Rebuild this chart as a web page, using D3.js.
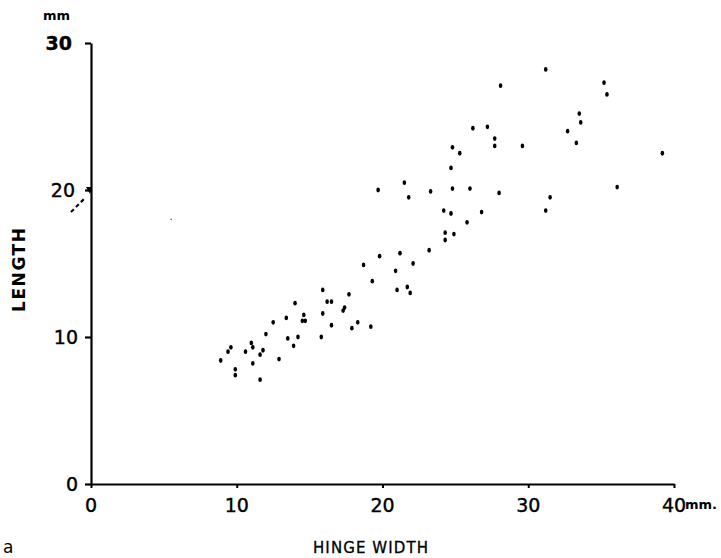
<!DOCTYPE html>
<html>
<head>
<meta charset="utf-8">
<script src="https://cdn.jsdelivr.net/npm/d3@7"></script>
<style>
  body { margin: 0; background: #fff; }
  svg { display: block; }
  .tick-label { font-family: "DejaVu Sans", sans-serif; font-size: 19px; fill: #000; stroke: #000; stroke-width: 0.4px; }
  .axis-title { font-family: "DejaVu Sans", sans-serif; fill: #000; }
</style>
</head>
<body>
<div id="chart"></div>
<script>
// hinge width (mm) vs length (mm)
const hingeWidth = [
  19.8, 21.2, 22.1, 18.7, 20.9, 19.3, 21.7, 21.0, 21.9, 15.9,
  17.7, 16.2, 16.5, 14.0, 17.3, 17.4, 15.9, 14.6, 13.4, 14.5,
  14.7, 12.5, 18.3, 16.5, 17.9, 19.2, 12.0, 13.5, 14.2, 15.8,
  11.0, 9.6, 11.1, 13.9, 9.4, 10.6, 11.8, 11.6, 12.9, 8.9,
  11.1, 9.9, 9.9, 11.6,
  24.8, 27.7, 27.7, 29.6, 25.3, 24.7, 21.5, 19.7, 23.3, 24.8,
  26.0, 21.8, 28.0, 31.5, 24.2, 24.7, 26.8, 31.2, 25.8, 24.3,
  24.9, 24.3, 23.2, 31.2, 28.1, 35.2, 35.4, 33.5, 33.6, 32.7,
  33.3, 26.2, 27.2, 39.2, 36.1
];
const shellLength = [
  15.5, 15.7, 15.0, 14.9, 14.5, 13.8, 13.4, 13.2, 13.0, 13.2,
  12.9, 12.4, 12.4, 12.3, 11.8, 12.0, 11.6, 11.5, 11.3, 11.1,
  11.1, 11.0, 11.0, 10.8, 10.6, 10.7, 10.2, 9.9, 10.0, 10.0,
  9.6, 9.3, 9.3, 9.4, 9.0, 9.0, 9.1, 8.8, 8.5, 8.4,
  8.2, 7.8, 7.4, 7.1,
  22.9, 23.5, 23.0, 23.0, 22.5, 21.5, 20.5, 20.0, 19.9, 20.1,
  20.1, 19.5, 19.8, 19.5, 18.6, 18.4, 18.5, 18.6, 17.8, 17.1,
  17.0, 16.6, 15.9, 28.2, 27.1, 27.3, 26.5, 25.2, 24.6, 24.0,
  23.2, 24.2, 24.3, 22.5, 20.2
];
// faint speck left of the cloud
const speckX = [5.5];
const speckY = [18.0];

const xTicks = [0, 10, 20, 30, 40];
const xTickLabels = ["0", "10", "20", "30", "40"];
const yTicks = [0, 10, 20, 30];
const yTickLabels = ["0", "10", "20", "30"];

const W = 721, H = 558;
const svg = d3.select("#chart").append("svg")
  .attr("width", W)
  .attr("height", H);

const x = d3.scaleLinear().domain([0, 40]).range([91, 674]);
const y = d3.scaleLinear().domain([0, 30]).range([484, 43]);

// x axis
const xAxis = d3.axisBottom(x).tickValues(xTicks).tickSize(4).tickSizeOuter(0).tickFormat("");
const gx = svg.append("g")
  .attr("transform", "translate(0," + y(0) + ")")
  .call(xAxis);
gx.select(".domain").attr("stroke", "#000").attr("stroke-width", 2.2);
gx.selectAll(".tick line").attr("stroke", "#000").attr("stroke-width", 2);

// y axis
const yAxis = d3.axisLeft(y).tickValues(yTicks).tickSize(6).tickSizeOuter(0).tickFormat("");
const gy = svg.append("g")
  .attr("transform", "translate(" + x(0) + ",0)")
  .call(yAxis);
gy.select(".domain").attr("stroke", "#000").attr("stroke-width", 2.2);
gy.selectAll(".tick line").attr("stroke", "#000").attr("stroke-width", 2.2);

// x tick labels
svg.selectAll(".xlab")
  .data(xTicks)
  .enter().append("text")
  .attr("class", "tick-label")
  .attr("x", d => x(d))
  .attr("y", 512)
  .attr("text-anchor", "middle")
  .text((d, i) => xTickLabels[i]);

svg.append("text")
  .attr("class", "tick-label")
  .attr("x", x(40) + 11)
  .attr("y", 509)
  .style("font-size", "13px")
  .style("font-weight", "bold")
  .style("stroke-width", "0")
  .text("mm.");

// y tick labels
svg.selectAll(".ylab")
  .data(yTicks)
  .enter().append("text")
  .attr("class", "tick-label")
  .attr("x", d => d === 30 ? 72 : (d === 20 ? 75 : 78))
  .attr("y", d => y(d) + 7)
  .attr("text-anchor", "end")
  .style("font-weight", d => d === 30 ? "bold" : "normal")
  .text((d, i) => yTickLabels[i]);

svg.append("text")
  .attr("class", "tick-label")
  .attr("x", 43)
  .attr("y", 20)
  .style("font-size", "13px")
  .style("font-weight", "bold")
  .style("stroke-width", "0")
  .text("mm");

// little pointer at 20 on the y axis
svg.append("path")
  .attr("d", "M" + (x(0) - 5) + "," + (y(20) - 3) + "L" + (x(0) + 1) + "," + (y(20) - 3) + "L" + (x(0) - 1) + "," + (y(20) + 4) + "Z")
  .attr("fill", "#000");
svg.append("line")
  .attr("x1", 71).attr("y1", y(20) + 22)
  .attr("x2", 84).attr("y2", y(20) + 9)
  .attr("stroke", "#000")
  .attr("stroke-width", 2.2)
  .attr("stroke-dasharray", "4,3");

// axis titles
svg.append("text")
  .attr("class", "axis-title")
  .attr("transform", "translate(25,270) rotate(-90)")
  .attr("text-anchor", "middle")
  .style("font-size", "17px")
  .style("font-weight", "bold")
  .attr("textLength", 84)
  .text("LENGTH");

svg.append("text")
  .attr("class", "axis-title")
  .attr("x", 313)
  .attr("y", 553)
  .style("font-size", "15px")
  .style("stroke", "#000")
  .style("stroke-width", "0.3px")
  .attr("textLength", 115)
  .text("HINGE WIDTH");

svg.append("text")
  .attr("class", "axis-title")
  .attr("x", 3)
  .attr("y", 553)
  .style("font-size", "17px")
  .text("a");

// points
const pts = hingeWidth.map((d, i) => ({w: d, l: shellLength[i]}));
svg.append("g")
  .selectAll("ellipse")
  .data(pts)
  .enter().append("ellipse")
  .attr("cx", d => x(d.w))
  .attr("cy", d => y(d.l))
  .attr("rx", 1.8)
  .attr("ry", 2.4)
  .attr("fill", "#000");

svg.append("g")
  .selectAll("circle")
  .data(speckX)
  .enter().append("circle")
  .attr("cx", d => x(d))
  .attr("cy", (d, i) => y(speckY[i]))
  .attr("r", 0.8)
  .attr("fill", "#666");
</script>
</body>
</html>
